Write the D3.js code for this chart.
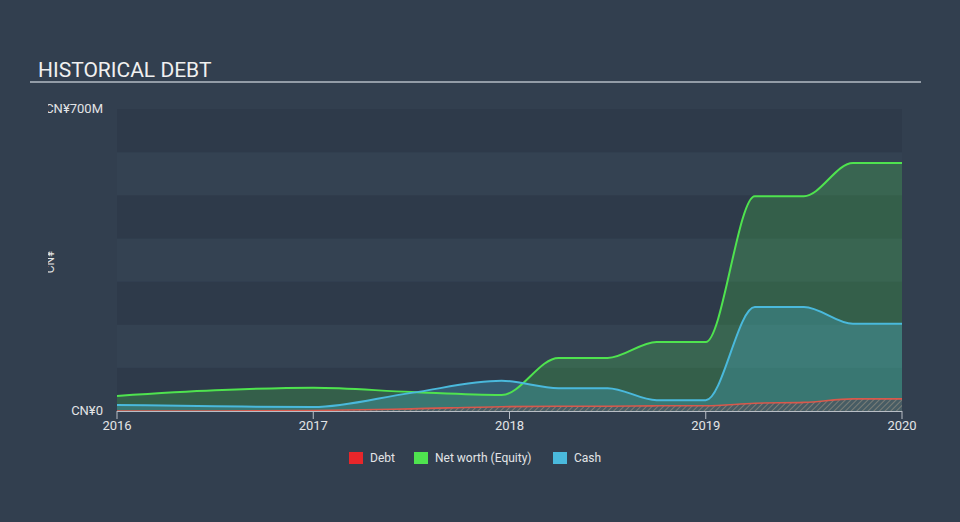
<!DOCTYPE html>
<html><head><meta charset="utf-8">
<script src="https://cdn.jsdelivr.net/npm/d3@7"></script>
<style>
html,body{margin:0;padding:0;background:#323f4f;}
svg{display:block;font-family:Roboto,"Noto Sans",sans-serif;}
</style></head><body>
<svg id="c" width="960" height="522"></svg>
<script>
const years = [2016.0, 2016.5, 2017.0, 2017.5, 2017.96, 2018.25, 2018.5, 2018.75, 2019.0, 2019.25, 2019.5, 2019.75, 2020.0];
const equity = [35, 48, 54, 44, 37, 123, 123, 160, 160, 498, 498, 575, 575];
const cash   = [14, 11, 9, 42, 70, 53, 53, 25, 25, 241, 241, 202, 202];
const debt   = [0, 0, 1, 5, 10, 11, 11, 12, 12, 18, 20, 28, 28];
const xTicks = [2016, 2017, 2018, 2019, 2020];
const yTicks = [0, 700];
const yTickLabels = ["CN¥0", "CN¥700M"];
const legendItems = [{name:"Debt", color:"#e8262a"}, {name:"Net worth (Equity)", color:"#4fe34f"}, {name:"Cash", color:"#4ab9dc"}];

const svg = d3.select("#c");
const x = d3.scaleLinear().domain([2016, 2020]).range([117, 902]);
const y = d3.scaleLinear().domain([0, 700]).range([411, 109]);

const defs = svg.append("defs");
const pat = defs.append("pattern").attr("id","hatch").attr("patternUnits","userSpaceOnUse")
  .attr("width",4).attr("height",4).attr("patternTransform","rotate(45)");
pat.append("rect").attr("width",4).attr("height",4).attr("fill","#4a5560");
pat.append("line").attr("x1",0).attr("y1",0).attr("x2",0).attr("y2",4).attr("stroke","#9a8a80").attr("stroke-width",1.6);
defs.append("clipPath").attr("id","leftclip").append("rect").attr("x",48).attr("y",0).attr("width",912).attr("height",522);

// title
svg.append("text").attr("x",38).attr("y",77).attr("fill","#f0f0f0").attr("font-size",21).text("HISTORICAL DEBT");
svg.append("line").attr("x1",30).attr("x2",921).attr("y1",82).attr("y2",82).attr("stroke","#b4bcc4").attr("stroke-width",1.5);

// bands
const bands = d3.range(7);
svg.append("g").selectAll("rect").data(bands).join("rect")
  .attr("x", x(2016)).attr("width", x(2020)-x(2016))
  .attr("y", d => y((d+1)*100)).attr("height", d => y(d*100)-y((d+1)*100))
  .attr("fill", d => d % 2 === 0 ? "#2e3a4a" : "#344252");

const pts = years.map((t,i)=>({t, e:equity[i], c:cash[i], d:debt[i]}));
const curve = d3.curveMonotoneX;
const area = key => d3.area().curve(curve).x(p=>x(p.t)).y0(y(0)).y1(p=>y(p[key]));
const line = key => d3.line().curve(curve).x(p=>x(p.t)).y(p=>y(p[key]));

svg.append("path").datum(pts).attr("d", area("e")).attr("fill","#4fe34f").attr("fill-opacity",0.22);
svg.append("path").datum(pts).attr("d", area("c")).attr("fill","#4ab9dc").attr("fill-opacity",0.27);
svg.append("path").datum(pts).attr("d", area("d")).attr("fill","url(#hatch)").attr("fill-opacity",0.8);

svg.append("path").datum(pts).attr("d", line("e")).attr("fill","none").attr("stroke","#4fe34f").attr("stroke-width",2);
svg.append("path").datum(pts).attr("d", line("c")).attr("fill","none").attr("stroke","#4ab9dc").attr("stroke-width",2);
svg.append("path").datum(pts).attr("d", line("d")).attr("fill","none").attr("stroke","#d9594c").attr("stroke-width",1.6);

// x axis
svg.append("line").attr("x1",x(2016)).attr("x2",x(2020)).attr("y1",411.5).attr("y2",411.5).attr("stroke","#b8bec6").attr("stroke-width",1.2);
const xg = svg.append("g");
xg.selectAll("line").data(xTicks).join("line")
  .attr("x1",d=>x(d)).attr("x2",d=>x(d)).attr("y1",411).attr("y2",419).attr("stroke","#b8bec6").attr("stroke-width",1);
xg.selectAll("text").data(xTicks).join("text")
  .attr("x",d=>x(d)).attr("y",430).attr("text-anchor","middle").attr("fill","#e2e4e6").attr("font-size",13)
  .text(d3.format("d"));

// y axis labels
const yg = svg.append("g").attr("clip-path","url(#leftclip)");
yg.selectAll("text").data(yTicks).join("text")
  .attr("x",103).attr("y",d=>y(d)+4).attr("text-anchor","end").attr("fill","#e2e4e6").attr("font-size",13)
  .text((d,i)=>yTickLabels[i]);
yg.append("text").attr("transform","translate(54,262) rotate(-90)").attr("text-anchor","middle")
  .attr("fill","#e2e4e6").attr("font-size",12).text("CN¥");

// legend
const lx = [349, 414, 553];
const lg = svg.append("g");
legendItems.forEach((it,i)=>{
  lg.append("rect").attr("x",lx[i]).attr("y",452).attr("width",14).attr("height",12).attr("fill",it.color);
  lg.append("text").attr("x",lx[i]+21).attr("y",462).attr("fill","#e2e4e6").attr("font-size",12).text(it.name);
});
</script>
</body></html>
